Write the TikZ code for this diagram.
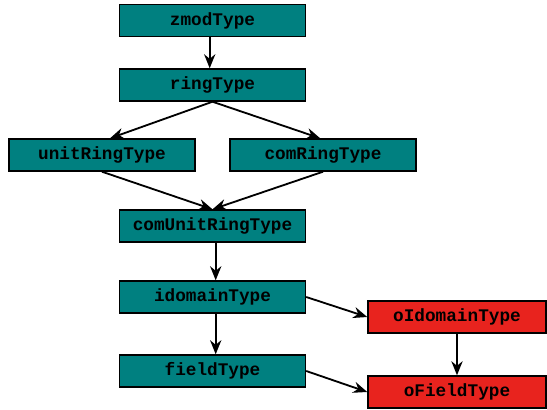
\documentclass[tikz,border=0pt]{standalone}
\usepackage{fontspec}
\usetikzlibrary{arrows.meta}
\setmonofont{Liberation Mono}
\definecolor{tealbox}{RGB}{0,128,128}
\definecolor{redbox}{RGB}{232,35,30}
\begin{document}
\begin{tikzpicture}[->,>={Stealth[length=10pt,width=8pt]},x=0.025cm,y=-0.025cm,line width=1.3pt,
    font=\fontsize{12.6}{14}\selectfont\ttfamily\bfseries,
    tbox/.style={draw=black,line width=1pt,fill=tealbox,minimum width=4.65cm,minimum height=0.8cm,inner sep=0pt},
    rbox/.style={tbox,fill=redbox,minimum width=4.45cm}]
            \useasboundingbox (0,0) rectangle (547,409);
            \node[tbox] (zmod) at (212.5,20.5) {zmodType};
            \node[tbox] (ring) at (212.5,85) {ringType};
            \node[tbox] (unitRing) at (102,155) {unitRingType};
            \node[tbox] (comRing) at (323,155) {comRingType};
            \node[tbox] (comUnitRing) at (212.5,226) {comUnitRingType};
            \node[tbox] (idomain) at (212.5,297) {idomainType};
            \node[tbox] (field) at (212.5,371) {fieldType};
            \node[rbox] (oIdomain) at (457,317) {oIdomainType};
            \node[rbox] (oField) at (457,392) {oFieldType};

            \draw ([xshift=-0.07cm]zmod.south) -- ([xshift=-0.07cm]ring.north);
            \draw (ring.south) -- ([xshift=0.2cm]unitRing.north);
            \draw (ring.south) -- ([xshift=-0.07cm]comRing.north);
            \draw (unitRing.south) -- (comUnitRing.north);
            \draw (comRing.south) -- (comUnitRing.north);
            \draw ([xshift=0.08cm]comUnitRing.south) -- ([xshift=0.08cm]idomain.north);
            \draw ([xshift=0.08cm]idomain.south) -- ([xshift=0.08cm]field.north);
            \draw (idomain.east) -- (oIdomain.west);
            \draw (field.east) -- (oField.west);
            \draw (oIdomain) -- (oField);
        \end{tikzpicture}
\end{document}
